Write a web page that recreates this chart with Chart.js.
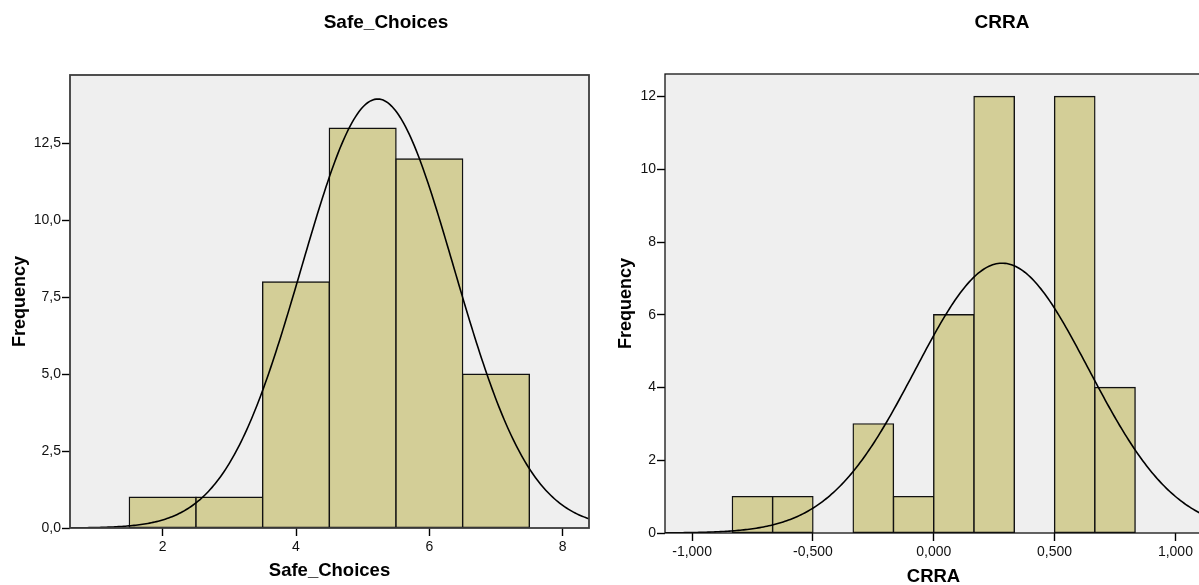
<!DOCTYPE html>
<html>
<head>
<meta charset="utf-8">
<script src="https://cdn.jsdelivr.net/npm/chart.js@4.4.1/dist/chart.umd.min.js"></script>
<style>
    html, body { margin: 0; padding: 0; background: #fff; overflow: hidden; }
    #wrap { position: relative; width: 1199px; height: 585px; overflow: hidden; }
    #chart_safe { position: absolute; left: 0; top: 0; }
    #chart_crra { position: absolute; left: 600px; top: 0; }
</style>
</head>
<body>
<div id="wrap">
    <canvas id="chart_safe" width="600" height="585"></canvas>
    <canvas id="chart_crra" width="610" height="585"></canvas>
</div>
<script>
// Safe_Choices histogram (bin width 1)
const safeBinCenters = [2, 3, 4, 5, 6, 7];
const safeCounts = [1, 1, 8, 13, 12, 5];
const safeXTicks = [2, 4, 6, 8];
const safeYTicks = [0, 2.5, 5, 7.5, 10, 12.5];
const safeMean = 5.225;
const safeSd = 1.144;
const safeN = 40;
const safeBinWidth = 1;

// CRRA histogram (bin width 1/6)
const crraBinCenters = [-0.75, -0.5833, -0.25, -0.0833, 0.0833, 0.25, 0.5833, 0.75];
const crraCounts = [1, 1, 3, 1, 6, 12, 12, 4];
const crraXTicks = [-1, -0.5, 0, 0.5, 1];
const crraYTicks = [0, 2, 4, 6, 8, 10, 12];
const crraMean = 0.283;
const crraSd = 0.3585;
const crraN = 40;
const crraBinWidth = 1 / 6;

const FONT = "'Liberation Sans', Arial, sans-serif";
const BAR_FILL = "#d3ce97";
const PLOT_BG = "#efefef";

// scaled normal density over the x range, same as the fitted curve
function normalCurve(mean, sd, n, binWidth, xmin, xmax) {
    const pts = [];
    const steps = 300;
    const k = (n * binWidth) / (sd * Math.sqrt(2 * Math.PI));
    for (let i = 0; i <= steps; i++) {
        const x = xmin + ((xmax - xmin) * i) / steps;
        const z = (x - mean) / sd;
        pts.push({ x: x, y: k * Math.exp(-0.5 * z * z) });
    }
    return pts;
}

const plotFrame = {
    id: "plotFrame",
    beforeDatasetsDraw(chart, args, opts) {
        const a = chart.chartArea;
        const ctx = chart.ctx;
        ctx.save();
        ctx.fillStyle = PLOT_BG;
        ctx.fillRect(a.left, a.top, a.right - a.left, a.bottom - a.top);
        ctx.restore();
    },
    afterDatasetsDraw(chart, args, opts) {
        const a = chart.chartArea;
        const ctx = chart.ctx;
        ctx.save();
        ctx.strokeStyle = opts.color;
        ctx.lineWidth = opts.width;
        ctx.strokeRect(a.left, a.top, a.right - a.left, a.bottom - a.top);
        ctx.restore();
    },
};

const panelTitle = {
    id: "panelTitle",
    afterDraw(chart, args, opts) {
        const ctx = chart.ctx;
        ctx.save();
        ctx.font = "bold 19px " + FONT;
        ctx.fillStyle = "#000";
        ctx.textAlign = "center";
        ctx.textBaseline = "middle";
        ctx.fillText(opts.text, opts.x, opts.y);
        ctx.restore();
    },
};

function makeHistogram(canvasId, cfg) {
    const ctx = document.getElementById(canvasId).getContext("2d");
    const bars = cfg.centers.map((c, i) => ({ x: c, y: cfg.counts[i] }));
    return new Chart(ctx, {
        type: "bar",
        data: {
            datasets: [
                {
                    type: "line",
                    data: normalCurve(cfg.mean, cfg.sd, cfg.n, cfg.binWidth, cfg.xMin, cfg.xMax),
                    borderColor: "#000",
                    borderWidth: 1.6,
                    pointRadius: 0,
                    tension: 0,
                    fill: false,
                    order: 0,
                },
                {
                    type: "bar",
                    data: bars,
                    backgroundColor: BAR_FILL,
                    borderColor: "#111",
                    borderWidth: 1.4,
                    borderSkipped: false,
                    // neighbouring bins share one edge line
                    inflateAmount: 0.7,
                    barPercentage: 1,
                    categoryPercentage: 1,
                    order: 1,
                },
            ],
        },
        options: {
            responsive: false,
            animation: false,
            layout: { padding: cfg.padding },
            plugins: {
                legend: { display: false },
                tooltip: { enabled: false },
                plotFrame: { color: cfg.frameColor, width: cfg.frameWidth },
                panelTitle: { text: cfg.title, x: cfg.titleX, y: 23 },
            },
            scales: {
                x: {
                    type: "linear",
                    min: cfg.xMin,
                    max: cfg.xMax,
                    offset: false,
                    afterFit: (s) => { s.height = cfg.xAxisHeight; },
                    afterBuildTicks: (s) => { s.ticks = cfg.xTicks.map((v) => ({ value: v })); },
                    grid: {
                        offset: false,
                        drawOnChartArea: false,
                        tickLength: 8,
                        tickColor: "#000",
                        tickWidth: 1.4,
                    },
                    border: { display: false },
                    ticks: {
                        color: "#111",
                        padding: 3,
                        maxRotation: 0,
                        font: { family: FONT, size: 14 },
                        callback: cfg.xFormat,
                    },
                    title: {
                        display: true,
                        text: cfg.xTitle,
                        color: "#000",
                        font: { family: FONT, size: 18.5, weight: "bold", lineHeight: 1 },
                        padding: { top: 0, bottom: cfg.xTitlePad },
                    },
                },
                y: {
                    min: 0,
                    max: cfg.yMax,
                    afterFit: (s) => { s.width = cfg.yAxisWidth; },
                    afterBuildTicks: (s) => { s.ticks = cfg.yTicks.map((v) => ({ value: v })); },
                    grid: {
                        drawOnChartArea: false,
                        tickLength: 8,
                        tickColor: "#000",
                        tickWidth: 1.4,
                    },
                    border: { display: false },
                    ticks: {
                        color: "#111",
                        padding: 1,
                        font: { family: FONT, size: 14 },
                        callback: cfg.yFormat,
                    },
                    title: {
                        display: true,
                        text: "Frequency",
                        color: "#000",
                        font: { family: FONT, size: 18, weight: "bold", lineHeight: 1 },
                        padding: { top: cfg.yTitlePad, bottom: 0 },
                    },
                },
            },
        },
        plugins: [plotFrame, panelTitle],
    });
}

makeHistogram("chart_safe", {
    title: "Safe_Choices",
    titleX: 386,
    centers: safeBinCenters,
    counts: safeCounts,
    mean: safeMean,
    sd: safeSd,
    n: safeN,
    binWidth: safeBinWidth,
    xMin: 0.61,
    xMax: 8.395,
    yMax: 14.73,
    xTicks: safeXTicks,
    yTicks: safeYTicks,
    xFormat: (v) => String(v),
    yFormat: (v) => v.toFixed(1).replace(".", ","),
    xTitle: "Safe_Choices",
    xTitlePad: 5,
    yTitlePad: 11,
    padding: { left: 0, right: 11, top: 75, bottom: 0 },
    xAxisHeight: 57,
    yAxisWidth: 70,
    frameColor: "#3c3c3c",
    frameWidth: 1.8,
});

makeHistogram("chart_crra", {
    title: "CRRA",
    titleX: 402,
    centers: crraBinCenters,
    counts: crraCounts,
    mean: crraMean,
    sd: crraSd,
    n: crraN,
    binWidth: crraBinWidth,
    xMin: -1.112,
    xMax: 1.11,
    yMax: 12.62,
    xTicks: crraXTicks,
    yTicks: crraYTicks,
    xFormat: (v) => v.toFixed(3).replace(".", ","),
    yFormat: (v) => String(v),
    xTitle: "CRRA",
    xTitlePad: -1,
    yTitlePad: 17,
    padding: { left: 0, right: 8, top: 74, bottom: 0 },
    xAxisHeight: 52,
    yAxisWidth: 65,
    frameColor: "#111",
    frameWidth: 1.3,
});
</script>
</body>
</html>
